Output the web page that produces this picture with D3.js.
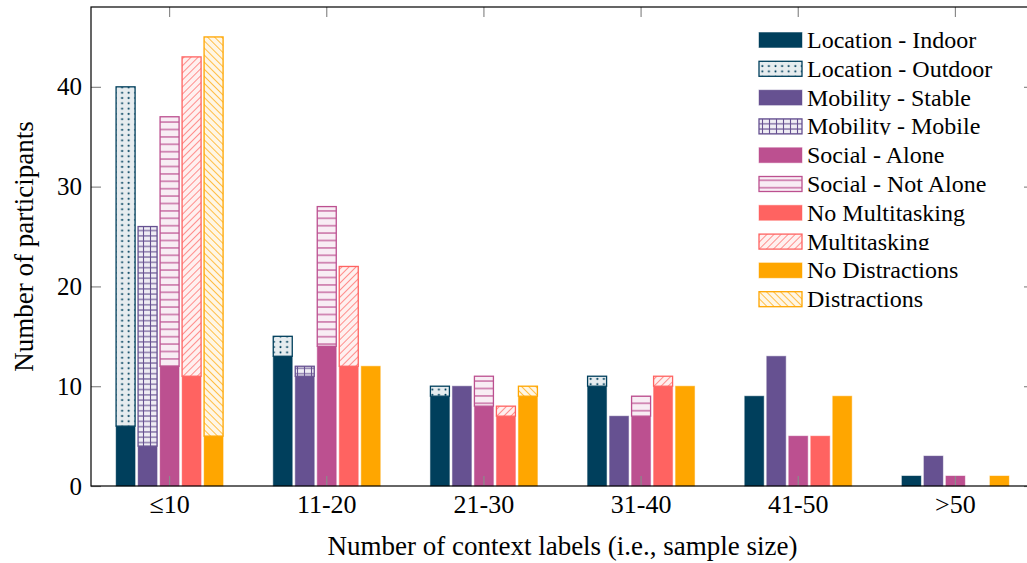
<!DOCTYPE html>
<html>
<head>
<meta charset="utf-8">
<script src="https://cdn.jsdelivr.net/npm/d3@7"></script>
<style>
  html, body { margin: 0; padding: 0; background: #fff; }
  svg { display: block; }
  text { font-family: "Liberation Serif", "Times New Roman", serif; fill: #000; }
</style>
</head>
<body>
<svg id="chart" width="1027" height="563"></svg>
<script>
// Sample-size bins on the x axis
const categories = ["≤10", "11-20", "21-30", "31-40", "41-50", ">50"];

// One stacked bar per context attribute within each bin
const attributes = ["Location", "Mobility", "Social", "Multitasking", "Distractions"];
const baseLabels = ["Location - Indoor", "Mobility - Stable", "Social - Alone", "No Multitasking", "No Distractions"];
const topLabels  = ["Location - Outdoor", "Mobility - Mobile", "Social - Not Alone", "Multitasking", "Distractions"];

// Number of participants per bin (bottom segment / top segment)
const locationIndoor   = [6, 13, 9, 10, 9, 1];
const locationOutdoor  = [34, 2, 1, 1, 0, 0];
const mobilityStable   = [4, 11, 10, 7, 13, 3];
const mobilityMobile   = [22, 1, 0, 0, 0, 0];
const socialAlone      = [12, 14, 8, 7, 5, 1];
const socialNotAlone   = [25, 14, 3, 2, 0, 0];
const noMultitasking   = [11, 12, 7, 10, 5, 0];
const multitasking     = [32, 10, 1, 1, 0, 0];
const noDistractions   = [5, 12, 9, 10, 9, 1];
const distractions     = [40, 0, 1, 0, 0, 0];

const yTicks = [0, 10, 20, 30, 40];

const baseSeries = [locationIndoor, mobilityStable, socialAlone, noMultitasking, noDistractions];
const topSeries  = [locationOutdoor, mobilityMobile, socialNotAlone, multitasking, distractions];

const colors = ["#003f5c", "#665191", "#bc5090", "#ff6361", "#ffa600"];
const tints  = ["#e6ecef", "#efedf4", "#f8edf4", "#fff0ef", "#fff6e5"];
const patternKinds = ["dots", "grid", "hlines", "nelines", "nwlines"];

const svg = d3.select("#chart");
const margin = { left: 91, top: 7, right: 1034, bottom: 486 };

const x = d3.scaleBand().domain(categories).range([margin.left, margin.right]).padding(0);
const xInner = d3.scaleBand().domain(attributes).range([-55, 55])
  .paddingInner(0.136).paddingOuter(0.068);
const y = d3.scaleLinear().domain([0, 48]).range([margin.bottom, margin.top]);

// Fill patterns for the upper segments
const defs = svg.append("defs");
patternKinds.forEach((kind, i) => {
  const c = colors[i];
  let w = 6, h = 6;
  if (kind === "dots") { w = 6.6; h = 5.3; }
  if (kind === "grid") { w = 7; h = 5.3; }
  if (kind === "hlines") { w = 7; h = 7.4; }
  const p = defs.append("pattern")
    .attr("id", "pat-" + i)
    .attr("patternUnits", "userSpaceOnUse")
    .attr("width", w).attr("height", h);
  if (kind === "nelines" || kind === "nwlines") {
    p.attr("patternTransform", "rotate(" + (kind === "nelines" ? 45 : -45) + ")")
      .attr("width", 5).attr("height", 5);
    p.append("rect").attr("width", 5).attr("height", 5).attr("fill", tints[i]);
    p.append("line").attr("x1", 0).attr("y1", 0).attr("x2", 0).attr("y2", 5)
      .attr("stroke", c).attr("stroke-width", 1.4);
    return;
  }
  p.append("rect").attr("width", w).attr("height", h).attr("fill", tints[i]);
  if (kind === "dots") {
    p.append("circle").attr("cx", w / 2).attr("cy", h / 2).attr("r", 1.0).attr("fill", c);
  } else if (kind === "grid") {
    p.append("line").attr("x1", 0).attr("y1", h / 2).attr("x2", w).attr("y2", h / 2)
      .attr("stroke", c).attr("stroke-width", 1.1);
    p.append("line").attr("x1", w / 2).attr("y1", 0).attr("x2", w / 2).attr("y2", h)
      .attr("stroke", c).attr("stroke-width", 1.1);
  } else if (kind === "hlines") {
    p.append("line").attr("x1", 0).attr("y1", h / 2).attr("x2", w).attr("y2", h / 2)
      .attr("stroke", c).attr("stroke-width", 1.2);
  }
});

// Stacked bars
const barsG = svg.append("g");
attributes.forEach((attr, ai) => {
  const g = barsG.append("g");
  const rows = categories.map((cat, ci) => ({
    cat, base: baseSeries[ai][ci], top: topSeries[ai][ci]
  }));
  const bw = xInner.bandwidth();
  const left = d => x(d.cat) + x.bandwidth() / 2 + xInner(attr);

  g.selectAll("rect.base").data(rows.filter(d => d.base > 0)).join("rect")
    .attr("class", "base")
    .attr("x", left).attr("width", bw)
    .attr("y", d => y(d.base)).attr("height", d => y(0) - y(d.base))
    .attr("fill", colors[ai])
    .attr("stroke", colors[ai]).attr("stroke-opacity", 0.45).attr("stroke-width", 1);

  g.selectAll("rect.top").data(rows.filter(d => d.top > 0)).join("rect")
    .attr("class", "top")
    .attr("x", left).attr("width", bw)
    .attr("y", d => y(d.base + d.top)).attr("height", d => y(d.base) - y(d.base + d.top))
    .attr("fill", "url(#pat-" + ai + ")")
    .attr("stroke", colors[ai]).attr("stroke-width", 1.3);
});

// Axes with inward ticks
const tickColor = "#8a8a8a";
const yAxis = svg.append("g").attr("transform", `translate(${margin.left},0)`)
  .call(d3.axisLeft(y).tickValues(yTicks).tickSizeInner(-10).tickSizeOuter(0).tickPadding(9));
const yAxisR = svg.append("g").attr("transform", `translate(${margin.right},0)`)
  .call(d3.axisRight(y).tickValues(yTicks).tickSizeInner(-10).tickSizeOuter(0).tickFormat(""));
const xAxis = svg.append("g").attr("transform", `translate(0,${margin.bottom})`)
  .call(d3.axisBottom(x).tickSizeInner(-10).tickSizeOuter(0).tickPadding(9));
const xAxisT = svg.append("g").attr("transform", `translate(0,${margin.top})`)
  .call(d3.axisTop(x).tickSizeInner(-10).tickSizeOuter(0).tickFormat(""));

[yAxis, yAxisR, xAxis, xAxisT].forEach(a => {
  a.select(".domain").remove();
  a.selectAll(".tick line").attr("stroke", tickColor).attr("stroke-width", 1.2);
  a.selectAll(".tick text").attr("font-size", 25).attr("fill", "#000");
});
xAxis.selectAll(".tick text").attr("font-size", 26);

// Frame
svg.append("rect")
  .attr("x", margin.left).attr("y", margin.top)
  .attr("width", margin.right - margin.left).attr("height", margin.bottom - margin.top)
  .attr("fill", "none").attr("stroke", "#000").attr("stroke-width", 1.2);

// Axis titles
svg.append("text")
  .attr("transform", `translate(33,${(margin.top + margin.bottom) / 2}) rotate(-90)`)
  .attr("text-anchor", "middle").attr("font-size", 27)
  .text("Number of participants");
svg.append("text")
  .attr("x", (margin.left + margin.right) / 2).attr("y", 555)
  .attr("text-anchor", "middle").attr("font-size", 27)
  .text("Number of context labels (i.e., sample size)");

// Legend: solid swatch for the lower segment, patterned swatch for the upper one
const legendItems = [];
attributes.forEach((a, i) => {
  legendItems.push({ label: baseLabels[i], idx: i, patterned: false });
  legendItems.push({ label: topLabels[i], idx: i, patterned: true });
});
// entries whose text box is cut at the baseline
const clippedEntries = ["Mobility - Mobile", "Multitasking"];
defs.append("clipPath").attr("id", "legend-row-clip")
  .append("rect").attr("x", 40).attr("y", -20).attr("width", 260).attr("height", 28.5);

const legend = svg.append("g").attr("transform", "translate(759,40)");
const rowH = 28.8;
const li = legend.selectAll("g").data(legendItems).join("g")
  .attr("transform", (d, i) => `translate(0,${i * rowH})`);
li.append("rect")
  .attr("x", 0).attr("y", -7.5).attr("width", 43).attr("height", 15)
  .attr("fill", d => d.patterned ? `url(#pat-${d.idx})` : colors[d.idx])
  .attr("stroke", d => colors[d.idx])
  .attr("stroke-opacity", d => d.patterned ? 1 : 0.45)
  .attr("stroke-width", d => d.patterned ? 1.3 : 1);
li.append("text")
  .attr("x", 48).attr("y", 8)
  .attr("font-size", 24)
  .attr("clip-path", d => clippedEntries.includes(d.label) ? "url(#legend-row-clip)" : null)
  .text(d => d.label);
</script>
</body>
</html>
